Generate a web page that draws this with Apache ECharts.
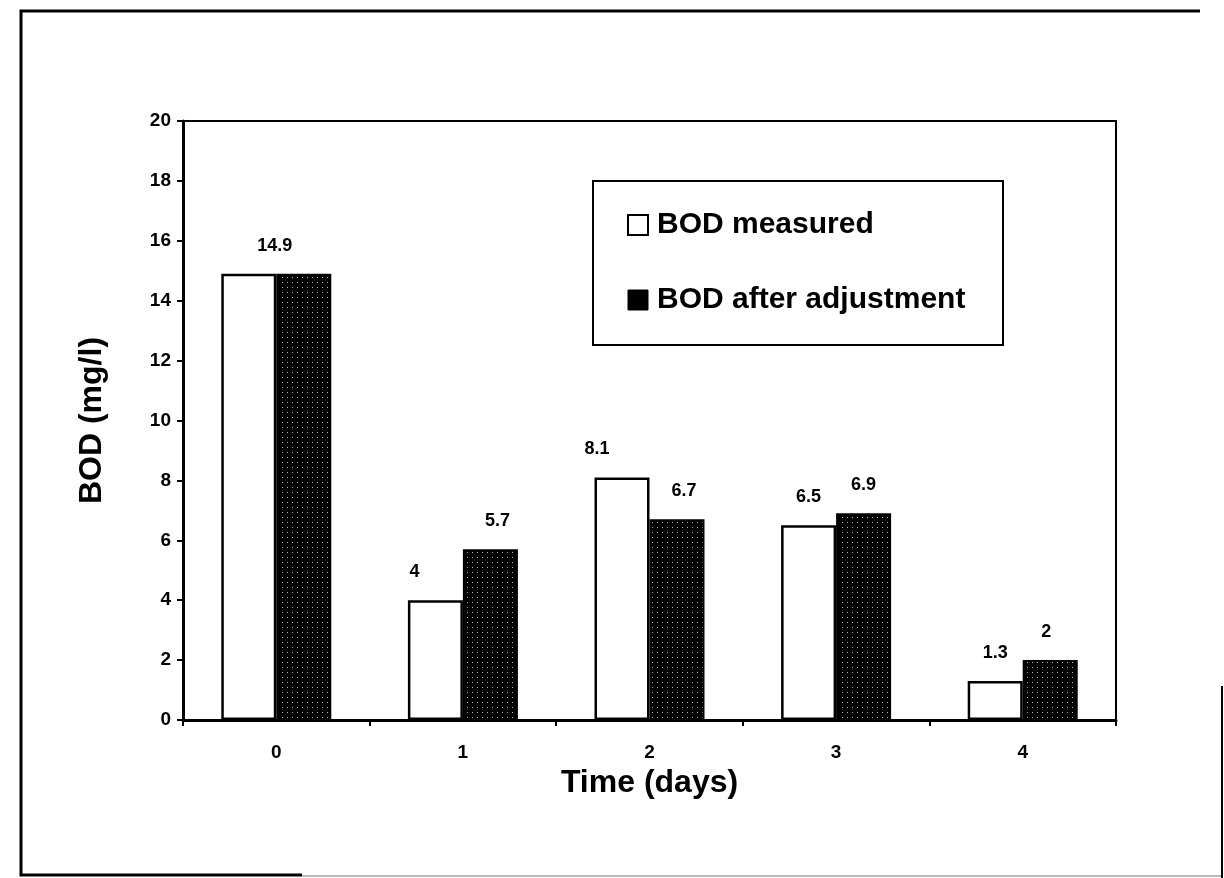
<!DOCTYPE html>
<html>
<head>
<meta charset="utf-8">
<script src="https://cdn.jsdelivr.net/npm/echarts@6/dist/echarts.min.js"></script>
<style>
  html, body { margin: 0; padding: 0; background: #fff; }
  #chart { width: 1224px; height: 878px; }
</style>
</head>
<body>
<div id="chart"></div>
<script>
// Time axis categories (days)
const days = ['0', '1', '2', '3', '4'];
// BOD values (mg/l)
const bodMeasured = [14.9, 4, 8.1, 6.5, 1.3];
const bodAdjusted = [14.9, 5.7, 6.7, 6.9, 2];
// Value axis range
const yMin = 0, yMax = 20, yStep = 2;

// Horizontal nudges of the value labels (px); null hides the label
const measuredLabelShift = [null, -21, -25, 0, 0];
const adjustedLabelShift = [-29, 7, 7, 0, -4];

const FONT = '"Liberation Sans", Arial, sans-serif';

// Black fill sprinkled with fine white dots
function dotPattern() {
  const c = document.createElement('canvas');
  c.width = 5; c.height = 5;
  const g = c.getContext('2d');
  g.fillStyle = '#000';
  g.fillRect(0, 0, 5, 5);
  g.fillStyle = '#bbb';
  g.fillRect(2, 2, 1, 1);
  return c;
}

function withLabels(values, shifts) {
  return values.map((v, i) => {
    const s = shifts[i];
    return s === null
      ? { value: v, label: { show: false } }
      : { value: v, label: { offset: [s, 0] } };
  });
}

const labelStyle = {
  show: true,
  position: 'top',
  distance: 19,
  fontFamily: FONT,
  fontSize: 18,
  fontWeight: 'bold',
  color: '#000'
};

const chart = echarts.init(document.getElementById('chart'), null, { renderer: 'canvas' });

chart.setOption({
  backgroundColor: '#fff',
  animation: false,
  textStyle: { fontFamily: FONT, color: '#000' },
  grid: {
    left: 183, right: 108, top: 121, bottom: 158,
    show: true, borderColor: '#000', borderWidth: 2, backgroundColor: 'transparent'
  },
  legend: {
    orient: 'vertical',
    left: 627,
    top: 210,
    padding: 0,
    itemWidth: 20,
    itemHeight: 20,
    itemGap: 45,
    selectedMode: false,
    textStyle: { fontFamily: FONT, fontSize: 30, fontWeight: 'bold', color: '#000', lineHeight: 30, padding: [0, 0, 0, 4] },
    data: [
      { name: 'BOD measured', icon: 'rect', itemStyle: { color: '#fff', borderColor: '#000', borderWidth: 2 } },
      { name: 'BOD after adjustment', icon: 'rect', itemStyle: { color: '#000', borderColor: '#000', borderWidth: 1 } }
    ]
  },
  xAxis: {
    type: 'category',
    data: days,
    name: 'Time (days)',
    nameLocation: 'middle',
    nameGap: 40,
    nameTextStyle: { fontFamily: FONT, fontSize: 32, fontWeight: 'bold', color: '#000' },
    axisLine: { show: true, lineStyle: { color: '#000', width: 3 } },
    axisTick: { show: true, length: 6, lineStyle: { color: '#000', width: 2 } },
    axisLabel: { margin: 23, fontFamily: FONT, fontSize: 19, fontWeight: 'bold', color: '#000' },
    splitLine: { show: false }
  },
  yAxis: {
    type: 'value',
    min: yMin,
    max: yMax,
    interval: yStep,
    name: 'BOD (mg/l)',
    nameLocation: 'middle',
    nameGap: 75,
    nameTextStyle: { fontFamily: FONT, fontSize: 32, fontWeight: 'bold', color: '#000' },
    axisLine: { show: true, lineStyle: { color: '#000', width: 3 } },
    axisTick: { show: true, length: 6, lineStyle: { color: '#000', width: 2 } },
    axisLabel: { margin: 12, fontFamily: FONT, fontSize: 19, fontWeight: 'bold', color: '#000' },
    splitLine: { show: false }
  },
  series: [
    {
      name: 'BOD measured',
      type: 'bar',
      barWidth: 55,
      barGap: '0%',
      itemStyle: { color: '#fff', borderColor: '#000', borderWidth: 2.5 },
      label: labelStyle,
      data: withLabels(bodMeasured, measuredLabelShift)
    },
    {
      name: 'BOD after adjustment',
      type: 'bar',
      barWidth: 55,
      barGap: '0%',
      itemStyle: { color: { image: dotPattern(), repeat: 'repeat' }, borderColor: '#000', borderWidth: 2 },
      label: labelStyle,
      data: withLabels(bodAdjusted, adjustedLabelShift)
    }
  ],
  graphic: [
    // legend frame
    { type: 'rect', z: 0, shape: { x: 593, y: 181, width: 410, height: 164 },
      style: { fill: 'none', stroke: '#000', lineWidth: 2 } },
    // outer page frame
    { type: 'polyline', shape: { points: [[1200, 11], [21, 11], [21, 875], [302, 875]] },
      style: { fill: 'none', stroke: '#000', lineWidth: 3 } },
    { type: 'polyline', shape: { points: [[302, 876], [1222, 876]] },
      style: { fill: 'none', stroke: '#777', lineWidth: 1 } },
    { type: 'polyline', shape: { points: [[1222, 686], [1222, 878]] },
      style: { fill: 'none', stroke: '#000', lineWidth: 2 } }
  ]
});
</script>
</body>
</html>
